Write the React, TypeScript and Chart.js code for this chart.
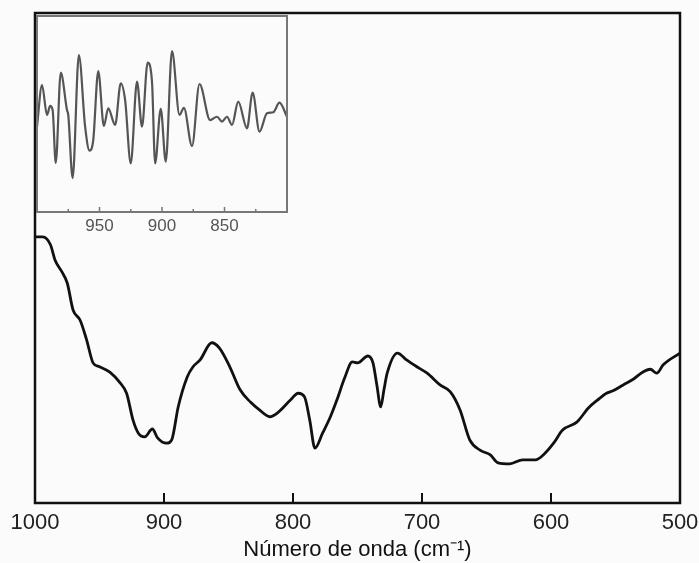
import React, { useEffect, useRef } from "react";
import { Chart, registerables } from "chart.js";

Chart.register(...registerables);

// Main spectrum (wavenumber cm-1 → transmittance, arbitrary units)
const mainWavenumbers = [1000, 994, 988, 984.5, 979, 975, 970.5, 965, 960, 955, 950, 942, 934, 929, 924, 920, 915, 909, 905, 898, 894, 889, 882, 877.5, 872, 863, 857, 849, 841, 833, 826, 818, 812, 802, 796, 791, 787, 783, 777, 771, 766, 760, 754, 750, 742, 738, 735, 732, 729.5, 727, 719, 712, 704, 696, 686, 678, 670.5, 663, 655, 647, 641, 632, 622, 612, 606, 598, 591, 580, 571, 564, 557, 552, 544, 536, 529, 523, 518, 513, 500];
const mainValues = [54.3, 54.3, 52.7, 49.6, 47.1, 44.9, 39.4, 37.3, 33.3, 28.6, 27.8, 26.7, 24.5, 22.4, 16.9, 14.3, 13.5, 15.1, 13.3, 12.2, 12.9, 19.6, 25.7, 27.8, 29.2, 32.7, 31.6, 27.8, 23.1, 20.6, 19.0, 17.6, 18.4, 21.0, 22.4, 21.6, 16.9, 11.2, 14.3, 17.6, 21.0, 25.5, 28.8, 28.6, 30.0, 28.6, 24.1, 19.6, 23.1, 26.5, 30.6, 29.2, 27.8, 26.5, 24.1, 22.7, 19.0, 12.9, 10.8, 9.8, 8.2, 8.0, 8.8, 8.8, 9.8, 12.2, 14.9, 16.5, 19.4, 21.0, 22.4, 22.9, 24.1, 25.3, 26.7, 27.3, 26.5, 28.2, 30.6];

// Inset (second derivative, 1000–800 cm-1)
const insetWavenumbers = [1000, 996, 992, 989.5, 987.5, 985, 981, 976, 975, 971.5, 966.5, 961.5, 958, 955, 951, 946.5, 943, 937.5, 933, 929.5, 925, 920, 916, 911.5, 908, 905.5, 901, 897, 892, 886, 882.5, 876, 870, 861.5, 856, 852, 848, 844, 839, 832, 827.5, 822, 816, 811, 806, 800];
const insetValues = [43.5, 64.8, 49.5, 54.1, 52.0, 25.0, 71.1, 52.0, 49.5, 17.3, 80.1, 43.5, 31.3, 36.7, 71.9, 43.9, 52.9, 44.4, 65.7, 57.1, 24.8, 66.5, 43.5, 76.2, 66.5, 24.8, 52.6, 25.7, 82.1, 49.5, 53.2, 33.7, 65.3, 46.9, 48.6, 46.1, 48.6, 44.4, 56.3, 42.7, 60.9, 41.0, 50.4, 50.9, 55.8, 48.6];
const insetLabelTicks = [950, 900, 850];
const insetMinorTicks = [975, 925, 875, 825];

const xTitle = "Número de onda (cm⁻¹)";
const FONT = "'Liberation Sans', Arial, Helvetica, sans-serif";

function framePlugin(color: string, width: number, tickLen: number, extraTicks: number[], extraLen: number) {
  return {
    id: "frame",
    afterDraw(chart: any) {
      const { ctx, chartArea } = chart;
      const xs = chart.scales.x;
      ctx.save();
      ctx.strokeStyle = color;
      ctx.lineWidth = width;
      ctx.strokeRect(chartArea.left, chartArea.top, chartArea.right - chartArea.left, chartArea.bottom - chartArea.top);
      ctx.lineWidth = Math.max(1.5, width - 0.5);
      xs.ticks.forEach((t: any) => {
        const px = xs.getPixelForValue(t.value);
        ctx.beginPath();
        ctx.moveTo(px, chartArea.bottom);
        ctx.lineTo(px, chartArea.bottom - tickLen);
        ctx.stroke();
      });
      extraTicks.forEach((v) => {
        const px = xs.getPixelForValue(v);
        ctx.beginPath();
        ctx.moveTo(px, chartArea.bottom);
        ctx.lineTo(px, chartArea.bottom - extraLen);
        ctx.stroke();
      });
      ctx.restore();
    },
  };
}

export default function App() {
  const mainRef = useRef<HTMLCanvasElement>(null);
  const insetRef = useRef<HTMLCanvasElement>(null);

  useEffect(() => {
    const main = new Chart(mainRef.current!, {
      type: "line",
      data: {
        datasets: [
          {
            data: mainWavenumbers.map((x, i) => ({ x, y: mainValues[i] })),
            borderColor: "#111111",
            borderWidth: 2.8,
            pointRadius: 0,
            cubicInterpolationMode: "monotone",
            fill: false,
          },
        ],
      },
      options: {
        animation: false,
        responsive: false,
        maintainAspectRatio: false,
        layout: { padding: { left: 35, right: 19, top: 13, bottom: 0 } },
        plugins: { legend: { display: false }, tooltip: { enabled: false } },
        scales: {
          x: {
            type: "linear",
            reverse: true,
            min: 500,
            max: 1000,
            afterFit: (s: any) => {
              s.height = 60;
              s.paddingLeft = 0;
              s.paddingRight = 0;
            },
            border: { display: false },
            grid: { display: true, drawOnChartArea: false, drawTicks: false },
            ticks: {
              stepSize: 100,
              padding: 7,
              color: "#222222",
              font: { family: FONT, size: 22 },
              maxRotation: 0,
              callback: (v: any) => String(v),
            },
            title: {
              display: true,
              text: xTitle,
              color: "#111111",
              font: { family: FONT, size: 22 },
              padding: { top: 0, bottom: 0 },
            },
          },
          y: { display: false, min: 0, max: 100 },
        },
      },
      plugins: [framePlugin("#111111", 2.5, 10, [], 0)],
    } as any);

    const inset = new Chart(insetRef.current!, {
      type: "line",
      data: {
        datasets: [
          {
            data: insetWavenumbers.map((x, i) => ({ x, y: insetValues[i] })),
            borderColor: "#555555",
            borderWidth: 2.2,
            pointRadius: 0,
            cubicInterpolationMode: "monotone",
            fill: false,
          },
        ],
      },
      options: {
        animation: false,
        responsive: false,
        maintainAspectRatio: false,
        layout: { padding: { left: 7, right: 8, top: 6, bottom: 0 } },
        plugins: { legend: { display: false }, tooltip: { enabled: false } },
        scales: {
          x: {
            type: "linear",
            reverse: true,
            min: 800,
            max: 1000,
            afterFit: (s: any) => {
              s.height = 30;
              s.paddingLeft = 0;
              s.paddingRight = 0;
            },
            afterBuildTicks: (s: any) => {
              s.ticks = insetLabelTicks.map((v) => ({ value: v }));
            },
            border: { display: false },
            grid: { display: true, drawOnChartArea: false, drawTicks: false },
            ticks: {
              padding: 4,
              color: "#555555",
              font: { family: FONT, size: 17 },
              maxRotation: 0,
              autoSkip: false,
              callback: (v: any) => String(v),
            },
          },
          y: { display: false, min: 0, max: 100 },
        },
      },
      plugins: [framePlugin("#777777", 2, 5, insetMinorTicks, 3)],
    } as any);

    return () => {
      main.destroy();
      inset.destroy();
    };
  }, []);

  return (
    <div
      style={{
        position: "absolute",
        left: 0,
        top: 0,
        width: 699,
        height: 563,
        background: "#fbfbfb",
        overflow: "hidden",
      }}
    >
      <canvas
        ref={mainRef}
        width={699}
        height={563}
        style={{ position: "absolute", left: 0, top: 0, width: 699, height: 563 }}
      />
      <canvas
        ref={insetRef}
        width={265}
        height={232}
        style={{ position: "absolute", left: 30, top: 10, width: 265, height: 232 }}
      />
    </div>
  );
}
